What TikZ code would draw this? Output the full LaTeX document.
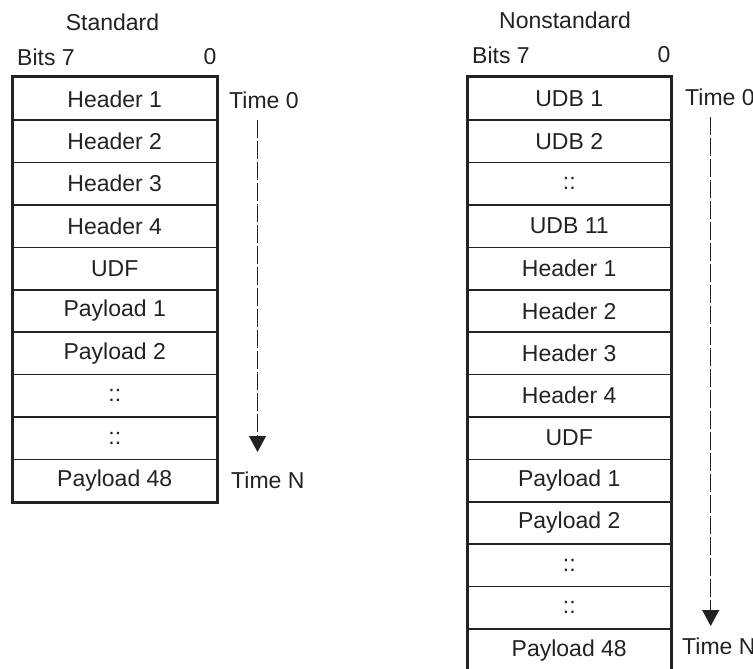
\documentclass[tikz,border=0pt]{standalone}
\usepackage{fontspec}
\setmainfont{Liberation Sans}
\usetikzlibrary{arrows.meta}
\definecolor{ink}{HTML}{222222}
\begin{document}
\begin{tikzpicture}[x=1pt,y=-1pt,
  every node/.style={text=ink},
  lbl/.style={font=\fontsize{23}{27}\selectfont, inner sep=0pt},
  cellL/.style={draw=ink, line width=1.5pt, minimum width=204pt, minimum height=42.4pt, inner sep=0pt, anchor=north west, font=\fontsize{23}{27}\selectfont},
  cellR/.style={cellL, minimum width=202pt},
  outer/.style={draw=ink, line width=3pt},
  timeline/.style={draw=ink, line width=1pt, dash pattern=on 18pt off 3pt, -{Triangle[width=17pt,length=16pt]}}]
\useasboundingbox (0,0) rectangle (753,669);
% Standard
\node[lbl] (stdtitle) at (112.5,22) {Standard};
\node[lbl, anchor=west] (stdbits) at (17,57) {Bits 7};
\node[lbl] (stdzero) at (210,57) {0};
\foreach \t [count=\i from 0] in {Header 1,Header 2,Header 3,Header 4,UDF,Payload 1,Payload 2,::,::,Payload 48}
  \node[cellL] (L\i) at (12,{77+42.4*\i}) {\t};
\draw[outer] (L0.north west) rectangle (L9.south east);
\node[lbl, anchor=west] (stdt0) at (229,100) {Time 0};
\node[lbl, anchor=west] (stdtn) at (231,480) {Time N};
\coordinate (sa) at (257.5,120);
\coordinate (sb) at (257.5,452);
\draw[timeline] (sa) -- (sb);
% Nonstandard
\node[lbl] (nstitle) at (565,20) {Nonstandard};
\node[lbl, anchor=west] (nsbits) at (472,55) {Bits 7};
\node[lbl] (nszero) at (664,55) {0};
\foreach \t [count=\i from 0] in {UDB 1,UDB 2,::,UDB 11,Header 1,Header 2,Header 3,Header 4,UDF,Payload 1,Payload 2,::,::,Payload 48}
  \node[cellR] (R\i) at (467.5,{77+42.4*\i}) {\t};
\draw[outer] (R0.north west) rectangle (R13.south east);
\node[lbl, anchor=west] (nst0) at (685,97) {Time 0};
\node[lbl, anchor=west] (nstn) at (682,646) {Time N};
\coordinate (na) at (710.7,117);
\coordinate (nb) at (710.7,626);
\draw[timeline] (na) -- (nb);
\end{tikzpicture}
\end{document}
